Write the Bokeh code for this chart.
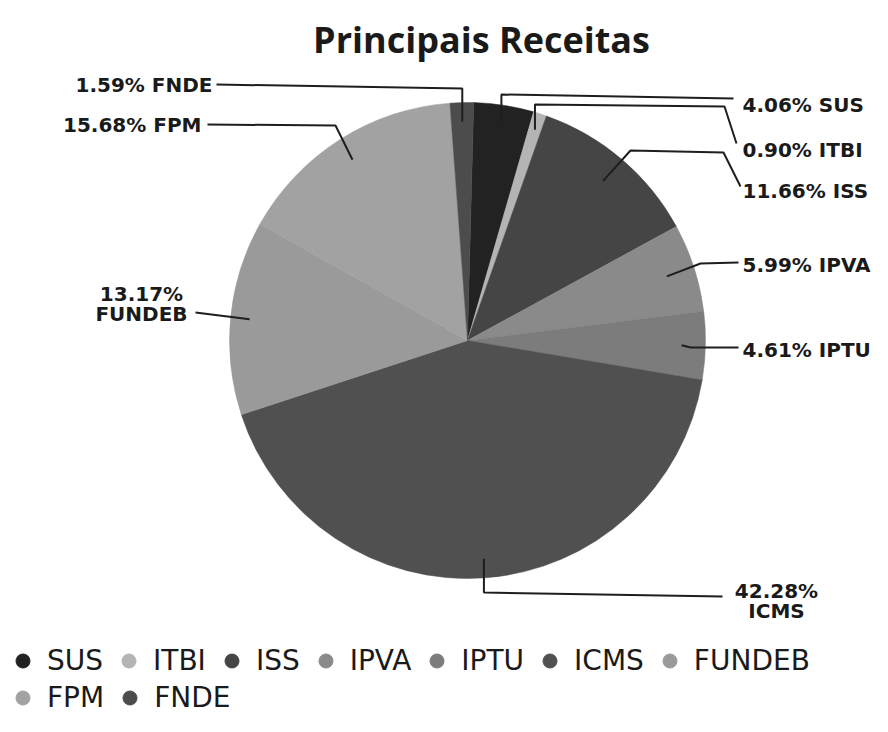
import math
from bokeh.plotting import figure
from bokeh.models import Range1d, Legend, LegendItem, ColumnDataSource
from bokeh.core.properties import value
from bokeh.embed import file_html
from bokeh.resources import INLINE

# ---- data ----
categories = ["SUS", "ITBI", "ISS", "IPVA", "IPTU", "ICMS", "FUNDEB", "FPM", "FNDE"]
percents = [4.06, 0.90, 11.66, 5.99, 4.61, 42.28, 13.17, 15.68, 1.59]
colors = ["#222222", "#b4b4b4", "#454545", "#8a8a8a", "#7c7c7c", "#505050", "#9a9a9a", "#a2a2a2", "#4c4c4c"]
title_text = "Principais Receitas"

W, H = 872, 716
p = figure(width=W, height=H, output_backend="svg", toolbar_location=None,
           x_range=Range1d(0, W), y_range=Range1d(0, H),
           min_border=0, outline_line_color=None)
p.axis.visible = False
p.grid.visible = False
p.background_fill_color = "white"

def Y(img_y):
    return H - img_y

cx, cy, r = 467, Y(340), 238
rot = math.radians(1.5)
total = sum(percents)
cum = 0.0
starts, ends, mids = [], [], []
for v in percents:
    a0 = math.pi / 2 - rot - 2 * math.pi * cum / total
    cum += v
    a1 = math.pi / 2 - rot - 2 * math.pi * cum / total
    starts.append(a0); ends.append(a1); mids.append((a0 + a1) / 2)

src = ColumnDataSource(dict(start=starts, end=ends, color=colors, cat=categories))
p.wedge(x=cx, y=cy, radius=r, start_angle="start", end_angle="end",
        direction="clock", fill_color="color", line_color="color", line_width=0.5, source=src)

# ---- leader lines and labels (layout) ----
layout = {
    "SUS":    (0.93, "v", [(733, 98)], (742, 104), "left"),
    "ITBI":   (0.93, "v", [(724, 106), (736, 143)], (742, 149), "left"),
    "ISS":    (0.88, None, [(630, 150), (723, 152), (740, 186)], (742, 190), "left"),
    "IPVA":   (0.88, None, [(700, 263), (738, 262)], (742, 264), "left"),
    "IPTU":   (0.90, None, [(690, 347), (738, 347)], (742, 349), "left"),
    "ICMS":   (0.92, "v", [(722, 596)], (776, 590), "center2"),
    "FUNDEB": (0.92, None, [(195, 312)], (141, 293), "center2"),
    "FPM":    (0.90, None, [(335, 125), (207, 124)], (201, 124), "right"),
    "FNDE":   (0.92, "v", [(216, 84)], (212, 84), "right"),
}
elbow_y = {"SUS": 94, "ITBI": 104, "ICMS": 592, "FNDE": 88}

label_font = value("DejaVu Sans")
for i, cat in enumerate(categories):
    frac, mode, pts, tpos, align = layout[cat]
    px = cx + frac * r * math.cos(mids[i])
    py = cy + frac * r * math.sin(mids[i])
    xs, ys = [px], [py]
    if mode == "v":
        xs.append(px); ys.append(Y(elbow_y[cat]))
    for (ix, iy) in pts:
        xs.append(ix); ys.append(Y(iy))
    p.line(xs, ys, line_color="#1e1e1e", line_width=2)
    pct = f"{percents[i]:.2f}%"
    if align == "center2":
        p.text(x=[tpos[0], tpos[0]], y=[Y(tpos[1]), Y(tpos[1] + 20)], text=[pct, cat],
               text_align="center", text_baseline="middle", text_font=label_font,
               text_font_style="bold", text_font_size="20px", text_color="#1a1a1a")
    else:
        p.text(x=[tpos[0]], y=[Y(tpos[1])], text=[f"{pct} {cat}"],
               text_align=align, text_baseline="middle", text_font=label_font,
               text_font_style="bold", text_font_size="20px", text_color="#1a1a1a")

# ---- title ----
p.text(x=[481], y=[Y(39)], text=[title_text], text_align="center", text_baseline="alphabetic",
       text_font=value("Open Sans"), text_font_style="bold", text_font_size="36px",
       text_color="#1a1a1a")

# ---- legend ----
items = []
for cat, c in zip(categories, colors):
    rr = p.scatter(x=[-1000], y=[-1000], marker="circle", size=14, fill_color=c, line_color=c)
    items.append(LegendItem(label=cat, renderers=[rr]))

def make_legend(its, loc):
    lg = Legend(items=its, orientation="horizontal", location=loc,
                label_text_font="DejaVu Sans", label_text_font_size="28px",
                label_text_color="#1a1a1a", glyph_width=35, glyph_height=35,
                label_height=35, label_standoff=7, spacing=8, padding=0, margin=0,
                border_line_alpha=0, background_fill_alpha=0)
    p.add_layout(lg, "center")

make_legend(items[:7], (5, 38))
make_legend(items[7:], (5, 1))

open("out.html", "w").write(file_html(p, INLINE))
